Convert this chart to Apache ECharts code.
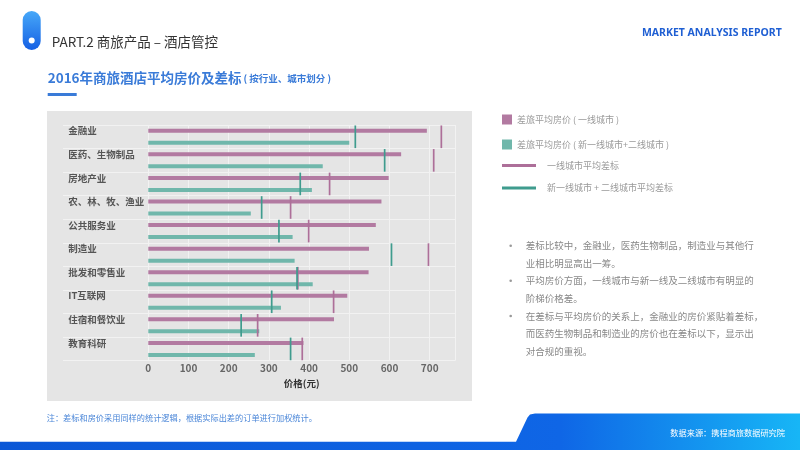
<!DOCTYPE html>
<html>
<head>
<meta charset="utf-8">
<script src="https://cdn.jsdelivr.net/npm/echarts@6/dist/echarts.min.js"></script>
<style>
html,body{margin:0;padding:0;background:#fff;}
#chart{width:800px;height:450px;}
</style>
</head>
<body>
<div id="chart"></div>
<script>
const categories = ['金融业','医药、生物制品','房地产业','农、林、牧、渔业','公共服务业','制造业','批发和零售业','IT互联网','住宿和餐饮业','教育科研'];
const tier1Price = [693, 629, 598, 580, 566, 549, 548, 495, 462, 386];
const tier2Price = [500, 434, 407, 255, 359, 364, 409, 330, 276, 265];
const tier1Cap = [729, 710, 451, 354, 399, 697, 372, 461, 272, 383];
const tier2Cap = [515, 588, 378, 282, 325, 605, 370, 307, 231, 354];
const xMin = 0, xMax = 763, xStep = 100;
const seriesNames = ['差旅平均房价 ( 一线城市 )', '差旅平均房价 ( 新一线城市+二线城市 )', '一线城市平均差标', '新一线城市 + 二线城市平均差标'];

const FONT = '"Noto Sans CJK SC", "Noto Sans", sans-serif';
const PINK = '#b27aa1';
const TEAL = '#70b7ab';
const PINK_CAP = '#ad6f99';
const TEAL_CAP = '#3f9c8e';

function capRender(color) {
  return function (params, api) {
    const p = api.coord([api.value(0), api.value(1)]);
    const h = api.size([0, 1])[1];
    return {
      type: 'line',
      shape: { x1: p[0], y1: p[1] - h * 0.48, x2: p[0], y2: p[1] + h * 0.48 },
      style: { stroke: color, lineWidth: 1.7 }
    };
  };
}

const chart = echarts.init(document.getElementById('chart'), null, { renderer: 'canvas' });

const bullets = [
  { y: 237, text: '差标比较中，金融业，医药生物制品，制造业与其他行\n业相比明显高出一筹。' },
  { y: 272, text: '平均房价方面，一线城市与新一线及二线城市有明显的\n阶梯价格差。' },
  { y: 307.3, text: '在差标与平均房价的关系上，金融业的房价紧贴着差标，\n而医药生物制品和制造业的房价也在差标以下，显示出\n对合规的重视。' }
];

const graphics = [
  { type: 'rect', z: -100, shape: { x: 47, y: 111, width: 425, height: 290 }, style: { fill: '#e5e5e5' } },
  { type: 'rect', shape: { x: 22.7, y: 11, width: 18, height: 39, r: 9 },
    style: { fill: new echarts.graphic.LinearGradient(0, 0, 0, 1, [{ offset: 0, color: '#47a8f8' }, { offset: 1, color: '#1560e4' }]) } },
  { type: 'circle', shape: { cx: 31.7, cy: 40.5, r: 3 }, style: { fill: '#ffffff' } },
  { type: 'text', x: 51.7, y: 41.7, style: { text: 'PART.2 商旅产品 – 酒店管控', font: '13.5px ' + FONT, fill: '#333', textVerticalAlign: 'middle' } },
  { type: 'text', x: 781.7, y: 33.3, style: { text: 'MARKET ANALYSIS REPORT', font: 'bold 10.5px "Noto Sans", "Open Sans", sans-serif', fill: '#1f5fd3', textAlign: 'right', textVerticalAlign: 'middle' } },
  { type: 'text', x: 47.7, y: 77.7, style: {
      text: '{a|2016年商旅酒店平均房价及差标}{b|( 按行业、城市划分 )}',
      textVerticalAlign: 'middle',
      rich: {
        a: { fontFamily: FONT, fontSize: 13.5, fontWeight: 'bold', fill: '#3a7bd8' },
        b: { fontFamily: FONT, fontSize: 9.5, fontWeight: 'bold', fill: '#3a7bd8', padding: [2, 0, 0, 2] }
      } } },
  { type: 'rect', shape: { x: 47.7, y: 93, width: 29, height: 3 }, style: { fill: '#3a7bd8' } },
  { type: 'text', x: 46.7, y: 418.3, style: { text: '注：差标和房价采用同样的统计逻辑，根据实际出差的订单进行加权统计。', font: '8.2px ' + FONT, fill: '#4a86d8', textVerticalAlign: 'middle' } },
  { type: 'polygon', shape: { points: [[0, 441.7], [516, 441.7], [527.5, 417.5], [530, 414.5], [535, 413.5], [800, 413.5], [800, 450], [0, 450]] },
    style: { fill: new echarts.graphic.LinearGradient(0, 0, 1, 0, [{ offset: 0, color: '#0b57d6' }, { offset: 0.7, color: '#0f66e6' }, { offset: 1, color: '#17b6f6' }]) } },
  { type: 'text', x: 785, y: 433.3, style: { text: '数据来源：携程商旅数据研究院', font: '8.2px ' + FONT, fill: '#ffffff', textAlign: 'right', textVerticalAlign: 'middle' } }
];
bullets.forEach(function (b) {
  graphics.push({ type: 'circle', shape: { cx: 510.7, cy: b.y + 8.75, r: 1.3 }, style: { fill: '#999' } });
  graphics.push({ type: 'text', x: 525.7, y: b.y, style: { text: b.text, font: '9.5px ' + FONT, fill: '#888', lineHeight: 17.5, textVerticalAlign: 'top' } });
});

function legendItem(name, top, w, h, color, padLeft) {
  return {
    data: [{ name: name, icon: 'rect', itemStyle: { color: color } }],
    left: 502, top: top, padding: 0, itemWidth: w, itemHeight: h,
    selectedMode: false,
    textStyle: { fontFamily: FONT, fontSize: 9, color: '#999', padding: [0, 0, 0, padLeft] }
  };
}

const option = {
  animation: false,
  backgroundColor: '#ffffff',
  textStyle: { fontFamily: FONT },
  graphic: graphics,
  legend: [
    legendItem(seriesNames[0], 114.5, 10, 10, PINK, 0),
    legendItem(seriesNames[1], 139.5, 10, 10, TEAL, 0),
    legendItem(seriesNames[2], 161, 34, 3, PINK_CAP, 6),
    legendItem(seriesNames[3], 183.5, 34, 3, TEAL_CAP, 6)
  ],
  grid: [
    { left: 148.3, right: 345, top: 125, height: 235.7 },
    { left: 63, right: 345, top: 125, height: 235.7 }
  ],
  xAxis: [
    {
      gridIndex: 0, type: 'value', min: xMin, max: xMax, interval: xStep,
      axisLine: { show: false }, axisTick: { show: false },
      axisLabel: { showMaxLabel: false, margin: 3, fontSize: 10, fontWeight: 'bold', color: '#666', fontFamily: FONT },
      splitLine: { show: true, lineStyle: { color: '#f2f2f2', width: 1 } },
      name: '价格(元)', nameLocation: 'middle', nameGap: 17,
      nameTextStyle: { fontSize: 9.5, fontWeight: 'bold', color: '#333', fontFamily: FONT }
    },
    { gridIndex: 1, type: 'value', min: xMin, max: xMax, show: false }
  ],
  yAxis: [
    {
      gridIndex: 0, type: 'category', data: categories, inverse: true,
      axisLine: { show: false }, axisTick: { show: false }, splitLine: { show: false },
      axisLabel: { align: 'left', verticalAlign: 'bottom', lineHeight: 12, margin: 80, fontSize: 9.5, fontWeight: 'bold', color: '#555', fontFamily: FONT }
    },
    {
      gridIndex: 1, type: 'category', data: categories, inverse: true,
      axisLine: { show: false }, axisTick: { show: false }, axisLabel: { show: false },
      splitLine: { show: true, lineStyle: { color: '#f2f2f2', width: 1 } }
    }
  ],
  series: [
    { name: seriesNames[0], type: 'bar', xAxisIndex: 0, yAxisIndex: 0, data: tier1Price, barWidth: 4, barGap: '200%', itemStyle: { color: PINK } },
    { name: seriesNames[1], type: 'bar', xAxisIndex: 0, yAxisIndex: 0, data: tier2Price, barWidth: 4, barGap: '200%', itemStyle: { color: TEAL } },
    { name: seriesNames[2], type: 'custom', xAxisIndex: 0, yAxisIndex: 0, z: 5, renderItem: capRender(PINK_CAP), itemStyle: { color: PINK_CAP },
      encode: { x: 0, y: 1 }, data: tier1Cap.map(function (v, i) { return [v, i]; }) },
    { name: seriesNames[3], type: 'custom', xAxisIndex: 0, yAxisIndex: 0, z: 5, renderItem: capRender(TEAL_CAP), itemStyle: { color: TEAL_CAP },
      encode: { x: 0, y: 1 }, data: tier2Cap.map(function (v, i) { return [v, i]; }) }
  ]
};
chart.setOption(option);
</script>
</body>
</html>
